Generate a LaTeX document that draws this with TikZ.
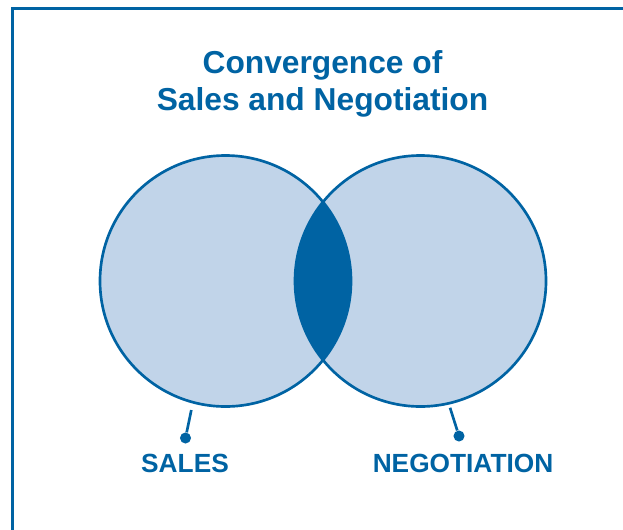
\documentclass[tikz,border=0pt]{standalone}
\usepackage{fontspec}
\setmainfont{Liberation Sans}
\usepackage{xcolor}
\usepackage{tikz}
\usetikzlibrary{calc,shapes}
\usetikzlibrary{positioning}

\definecolor{vennblue}{RGB}{0,99,163}
\definecolor{vennlight}{RGB}{193,212,233}

\tikzset{
  frame/.style={draw=vennblue, line width=2.6pt},
  venn/.style={circle, fill=vennlight, inner sep=0pt, line width=2pt, minimum size=188.25pt},
  ring/.style={draw=vennblue, line width=2pt},
  dot/.style={circle, fill=vennblue, inner sep=0pt, minimum size=8.3pt},
  pointer/.style={draw=vennblue, line width=2pt},
  heading/.style={text=vennblue, font=\fontsize{23.8}{27.75}\selectfont\bfseries, align=center, inner sep=0pt},
  setname/.style={text=vennblue, font=\fontsize{19.7}{23}\selectfont\bfseries, inner sep=0pt}
}

\begin{document}
\begin{tikzpicture}[x=0.75pt,y=0.75pt,yscale=-1,xscale=1]
\useasboundingbox (0,0) rectangle (623,529);

%Frame
\draw[frame] (12.5,536) -- (12.5,8.5) -- (630,8.5);

%Title
\node[heading, anchor=north] (title) at (322.5,50.5) {Convergence of\\Sales and Negotiation};

%Shape: Circle [sales]
\node[venn] (sales) at (225.5,281) {};
%Shape: Circle [negotiation]
\node[venn] (nego) at (420.5,281) {};

%Overlap
\begin{scope}
\clip (sales.center) circle[radius=94.125pt];
\fill[vennblue] (nego.center) circle[radius=94.125pt];
\end{scope}

\draw[ring] (sales.center) circle[radius=94.125pt];
\draw[ring] (nego.center) circle[radius=94.125pt];

%Pointers
\node[dot] (salesdot) at (185.5,438) {};
\node[dot] (negodot) at (459,436) {};
\draw[pointer, shorten >=5pt] (salesdot) -- (sales.255.7);
\draw[pointer, shorten >=2.5pt] (negodot) -- (nego.283.9);

%Labels
\node[setname, anchor=base] (saleslabel) at (185,472) {SALES};
\node[setname, anchor=base] (negolabel) at (463,472) {NEGOTIATION};

\end{tikzpicture}
\end{document}
